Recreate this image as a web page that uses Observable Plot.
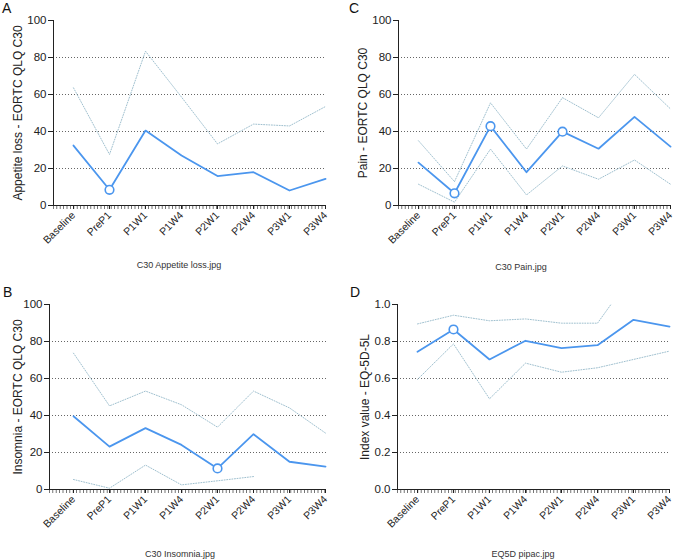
<!DOCTYPE html>
<html><head><meta charset="utf-8">
<script src="https://cdn.jsdelivr.net/npm/d3@7"></script>
<script src="https://cdn.jsdelivr.net/npm/@observablehq/plot@0.6"></script>
<style>
body{margin:0;background:#fff;font-family:"Liberation Sans",Arial,sans-serif;}
#wrap{position:relative;width:676px;height:560px;overflow:hidden;}
.panel{position:absolute;width:338px;height:280px;}
.panel svg{position:absolute;left:0;top:0;}
.letter{position:absolute;font-size:14px;line-height:14px;color:#111;}
.cap{position:absolute;font-size:9px;line-height:10px;color:#333;transform:translateX(-50%);white-space:nowrap;}
</style></head><body><div id="wrap"></div>
<script>
// ---- data ----
const timepoints = ["Baseline", "PreP1", "P1W1", "P1W4", "P2W1", "P2W4", "P3W1", "P3W4"];

const appetiteMean  = [32.4, 8.5, 40.5, 27.0, 15.9, 18.0, 8.1, 14.4];
const appetiteUpper = [63.6, 27.6, 83.4, 58.6, 33.3, 44.0, 43.0, 53.5];
const appetiteSig   = [false, true, false, false, false, false, false, false];

const painMean  = [23.2, 6.6, 42.9, 18.0, 39.9, 30.7, 47.9, 31.8];
const painUpper = [35.0, 12.9, 55.5, 30.5, 58.3, 47.4, 70.9, 52.2];
const painLower = [11.5, 1.8, 30.5, 5.7, 21.4, 14.2, 24.6, 11.5];
const painSig   = [false, true, true, false, true, false, false, false];

const insomniaMean  = [39.6, 23.2, 33.2, 24.1, 11.4, 29.9, 15.0, 12.4];
const insomniaUpper = [73.7, 45.2, 53.2, 45.8, 33.7, 53.2, 44.1, 30.5];
const insomniaLower = [5.4, 0.7, 13.2, 2.5, 4.7, 7.0, null, null];
const insomniaSig   = [false, false, false, false, true, false, false, false];

const eq5dMean  = [0.744, 0.865, 0.703, 0.804, 0.764, 0.780, 0.917, 0.881];
const eq5dUpper = [0.895, 0.942, 0.912, 0.922, 0.899, 0.899, 1.17, 1.10];
const eq5dLower = [0.595, 0.787, 0.490, 0.683, 0.634, 0.658, 0.703, 0.748];
const eq5dSig   = [false, true, false, false, false, false, false, false];

const c30Ticks  = [0, 20, 40, 60, 80, 100];
const c30Grid   = [20, 40, 60, 80];
const eq5dTicks = [0, 0.2, 0.4, 0.6, 0.8, 1.0];
const eq5dGrid  = [0.2, 0.4, 0.6, 0.8];

// ---- styling ----
const BLUE = "#4b96ee";
const CI = "#9fc0cf";
const INK = "#222";

function makeTable(mean, upper, lower, sig) {
  return timepoints.map((t, i) => ({
    t, mean: mean[i], upper: upper ? upper[i] : null,
    lower: lower ? lower[i] : null, sig: sig[i]
  }));
}

function panel(cfg) {
  const data = makeTable(cfg.mean, cfg.upper, cfg.lower, cfg.sig);
  const marks = [
    Plot.gridY(cfg.grid, {stroke: "#555", strokeOpacity: 0.9, strokeDasharray: "1,2", strokeWidth: 1}),
    Plot.line(data, {x: "t", y: "upper", stroke: CI, strokeWidth: 1, strokeDasharray: "1,1.6", clip: true}),
  ];
  if (cfg.lower) marks.push(Plot.line(data, {x: "t", y: "lower", stroke: CI, strokeWidth: 1, strokeDasharray: "1,1.6", clip: true}));
  marks.push(
    Plot.line(data, {x: "t", y: "mean", stroke: BLUE, strokeWidth: 1.8}),
    Plot.dot(data, {x: "t", y: "mean", filter: "sig", r: 4.3, stroke: BLUE, strokeWidth: 1.6, fill: "white"}),
    Plot.frame({anchor: "left", stroke: INK, strokeWidth: 1}),
    Plot.ruleY([cfg.ticks[0]], {stroke: INK, strokeWidth: 1}),
    Plot.ruleY([cfg.ticks[0]], {stroke: "#555", strokeWidth: 3, strokeDasharray: "0.8,2.6", dy: 2}),
    Plot.axisY({ticks: cfg.ticks, tickFormat: cfg.format, tickSize: 5, tickPadding: 2, label: null, stroke: INK, color: INK, fontSize: 11.5}),
    Plot.axisX({tickRotate: -45, tickSize: 4, tickPadding: 4, label: null, stroke: INK, color: INK, fontSize: 10.5}),
    Plot.text([cfg.ylabel], {frameAnchor: "left", rotate: -90, dx: cfg.ylabelDx, fontSize: 12, fill: INK, textAnchor: "middle", lineAnchor: "middle"})
  );
  const svg = Plot.plot({
    width: 338, height: cfg.height,
    marginLeft: cfg.ml, marginRight: cfg.mr, marginTop: cfg.mt, marginBottom: cfg.mb,
    x: {type: "point", domain: timepoints, padding: 0, insetLeft: cfg.inset},
    y: {domain: [cfg.ticks[0], cfg.ticks[cfg.ticks.length - 1]]},
    style: {fontFamily: "'Liberation Sans', Arial, sans-serif", fontSize: "10.5px", color: INK, background: "transparent", overflow: "visible"},
    marks
  });
  const div = document.createElement("div");
  div.className = "panel";
  div.style.left = cfg.left + "px";
  div.style.top = cfg.top + "px";
  div.appendChild(svg);
  const L = document.createElement("div");
  L.className = "letter"; L.textContent = cfg.letter;
  L.style.left = cfg.letterX + "px"; L.style.top = cfg.letterY + "px";
  div.appendChild(L);
  const C = document.createElement("div");
  C.className = "cap"; C.textContent = cfg.caption;
  C.style.left = cfg.capX + "px"; C.style.top = cfg.capY + "px";
  div.appendChild(C);
  document.getElementById("wrap").appendChild(div);
}

const fmtInt = d3.format("d");
const fmt1 = d3.format(".1f");

panel({letter: "A", left: 0, top: 0, height: 250, ml: 53, mr: 12, mt: 20, mb: 45, inset: 19,
  mean: appetiteMean, upper: appetiteUpper, lower: null, sig: appetiteSig,
  ticks: c30Ticks, grid: c30Grid, format: fmtInt,
  ylabel: "Appetite loss - EORTC QLQ C30", ylabelDx: -35,
  letterX: 2, letterY: 1, caption: "C30 Appetite loss.jpg", capX: 179, capY: 260});

panel({letter: "C", left: 338, top: 0, height: 250, ml: 60, mr: 5, mt: 20, mb: 45, inset: 18,
  mean: painMean, upper: painUpper, lower: painLower, sig: painSig,
  ticks: c30Ticks, grid: c30Grid, format: fmtInt,
  ylabel: "Pain - EORTC QLQ C30", ylabelDx: -35,
  letterX: 11, letterY: 1, caption: "C30 Pain.jpg", capX: 183, capY: 262});

panel({letter: "B", left: 0, top: 280, height: 254, ml: 49, mr: 12, mt: 24, mb: 45, inset: 23,
  mean: insomniaMean, upper: insomniaUpper, lower: insomniaLower, sig: insomniaSig,
  ticks: c30Ticks, grid: c30Grid, format: fmtInt,
  ylabel: "Insomnia - EORTC QLQ C30", ylabelDx: -31,
  letterX: 3, letterY: 5, caption: "C30 Insomnia.jpg", capX: 180, capY: 269});

panel({letter: "D", left: 338, top: 280, height: 254, ml: 59, mr: 6, mt: 24, mb: 45, inset: 18,
  mean: eq5dMean, upper: eq5dUpper, lower: eq5dLower, sig: eq5dSig,
  ticks: eq5dTicks, grid: eq5dGrid, format: fmt1,
  ylabel: "Index value - EQ-5D-5L", ylabelDx: -32,
  letterX: 12, letterY: 5, caption: "EQ5D pipac.jpg", capX: 185, capY: 269});
</script>
</body></html>
